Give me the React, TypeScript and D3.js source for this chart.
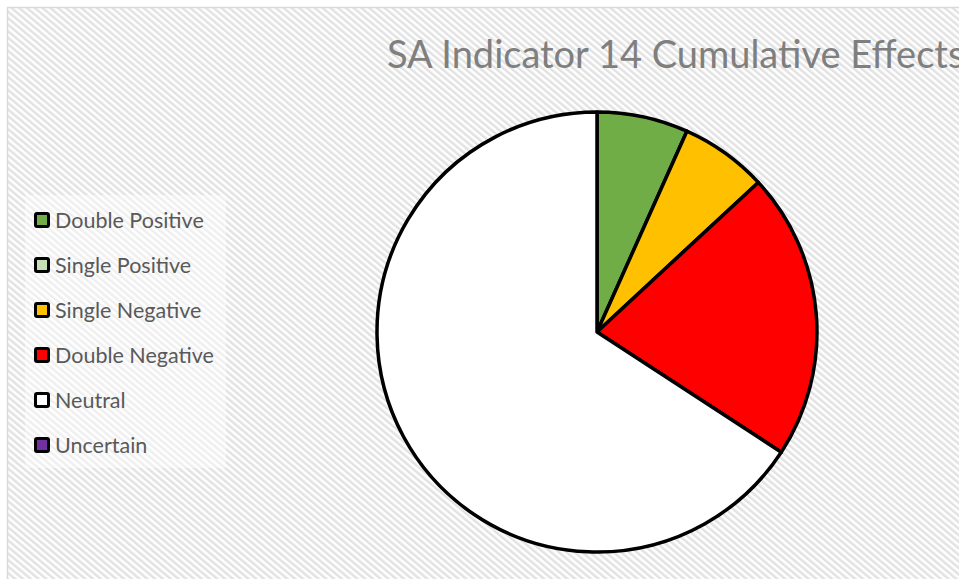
import React from "react";
import * as d3 from "d3";

const categories = ["Double Positive", "Single Positive", "Single Negative", "Double Negative", "Neutral", "Uncertain"];
const values = [6.7, 0, 6.4, 21.1, 65.8, 0];
const colors = ["#70ad47", "#c5e0b4", "#ffc000", "#ff0000", "#ffffff", "#7030a0"];
const title = "SA Indicator 14 Cumulative Effects";

export default function App() {
  const W = 959, H = 579;
  const cx = 597, cy = 332, r = 220;
  const data = categories.map((c, i) => ({ c, v: values[i], col: colors[i] }));
  const pie = d3.pie<any>().value((d: any) => d.v).sort(null);
  const arcs = pie(data);
  const arc = d3.arc<any>().innerRadius(0).outerRadius(r);
  const legendY = d3.scalePoint<string>().domain(categories).range([220, 445]);
  return (
    <svg width={W} height={H} style={{ position: "absolute", left: 0, top: 0 }}>
      <defs>
        <pattern id="hatch" width="5" height="5" patternUnits="userSpaceOnUse" patternTransform="rotate(-50)">
          <rect width="5" height="5" fill="#ffffff" />
          <rect width="2.5" height="5" fill="#e2e2e2" />
        </pattern>
      </defs>
      <rect x={7.5} y={7.5} width={W + 10} height={H + 10} fill="url(#hatch)" stroke="#d9d9d9" strokeWidth={1.5} />
      <text x={387} y={68} fontFamily="Lato, 'Open Sans', sans-serif" fontSize={38} fill="#7f7f7f">{title}</text>
      <rect x={25} y={195} width={201} height={273} fill="#ffffff" fillOpacity={0.45} />
      <g>
        {arcs.filter(a => a.data.v > 0).map((a, i) => (
          <path key={i} d={arc(a) as string} transform={`translate(${cx},${cy})`} fill={a.data.col} stroke="#000" strokeWidth={3.5} strokeLinejoin="round" />
        ))}
      </g>
      <g>
        {categories.map((c, i) => {
          const y = legendY(c) as number;
          return (
            <g key={c}>
              <rect x={35.5} y={y - 6.5} width={13} height={13} rx={1.5} fill={colors[i]} stroke="#000" strokeWidth={3} />
              <text x={55} y={y} dy="0.35em" fontFamily="Lato, 'Open Sans', sans-serif" fontSize={21.5} fill="#595959">{c}</text>
            </g>
          );
        })}
      </g>
    </svg>
  );
}
